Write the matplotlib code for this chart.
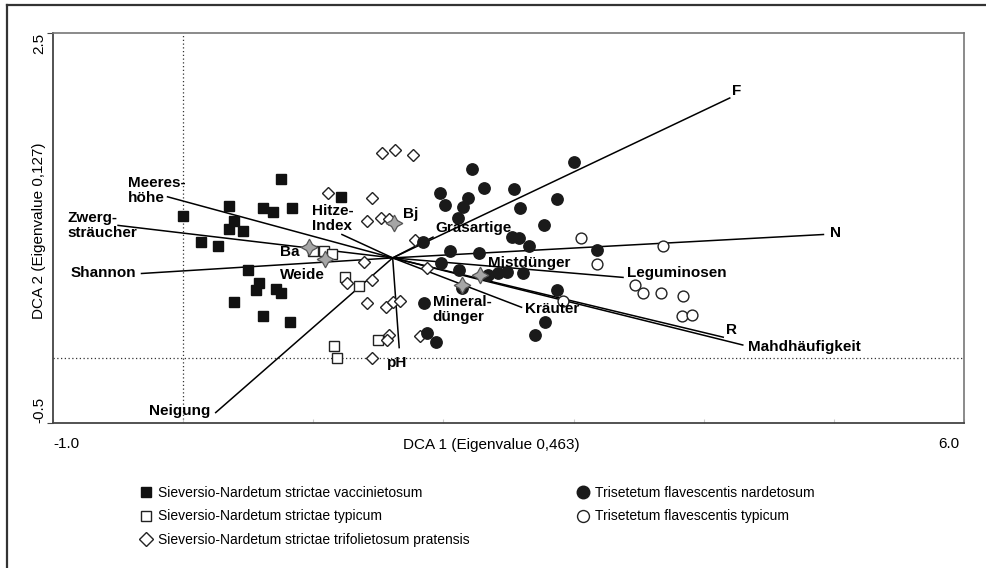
import matplotlib.pyplot as plt
from matplotlib.lines import Line2D
from matplotlib.transforms import ScaledTranslation

plt.rcParams['font.family'] = ['Liberation Sans', 'DejaVu Sans']

# --------------------------------------------------
# DATA (DCA site scores)
# --------------------------------------------------

# Sieversio-Nardetum strictae vaccinietosum (filled squares)
vacc_x = [0.00, 0.75, 1.21, 0.35, 0.61, 0.69, 0.84, 0.39, 0.35, 0.46,
          0.14, 0.27, 0.50, 0.58, 0.56, 0.71, 0.75, 0.39, 0.61, 0.82]
vacc_y = [1.09, 1.38, 1.24, 1.17, 1.15, 1.12, 1.15, 1.05, 0.99, 0.98,
          0.89, 0.86, 0.68, 0.58, 0.52, 0.53, 0.50, 0.43, 0.32, 0.28]

# Sieversio-Nardetum strictae typicum (open squares)
snty_x = [1.00, 1.08, 1.14, 1.24, 1.35, 1.50, 1.16, 1.18]
snty_y = [0.82, 0.82, 0.80, 0.62, 0.55, 0.14, 0.09, 0.00]

# Sieversio-Nardetum strictae trifolietosum pratensis (open diamonds)
trif_x = [1.53, 1.63, 1.77, 1.11, 1.45, 1.41, 1.52, 1.58, 1.78, 1.39, 1.87,
          1.26, 1.45, 1.41, 1.56, 1.61, 1.67, 1.58, 1.57, 1.45, 1.82]
trif_y = [1.58, 1.60, 1.56, 1.27, 1.23, 1.05, 1.08, 1.07, 0.91, 0.74, 0.69,
          0.58, 0.60, 0.42, 0.39, 0.43, 0.44, 0.18, 0.14, 0.00, 0.17]

# Trisetetum flavescentis nardetosum (filled circles)
nard_x = [2.22, 1.97, 2.01, 2.31, 2.19, 2.15, 2.11, 2.54, 3.00, 2.87, 2.59,
          2.77, 1.84, 2.53, 2.58, 2.66, 3.18, 2.05, 2.27, 1.98, 2.12, 2.34,
          2.42, 2.49, 2.61, 2.87, 2.14, 1.85, 1.87, 1.94, 2.78, 2.70]
nard_y = [1.45, 1.27, 1.18, 1.31, 1.23, 1.16, 1.08, 1.30, 1.51, 1.22, 1.15,
          1.02, 0.89, 0.93, 0.92, 0.86, 0.83, 0.82, 0.81, 0.73, 0.68, 0.64,
          0.65, 0.66, 0.65, 0.52, 0.54, 0.42, 0.19, 0.12, 0.28, 0.18]

# Trisetetum flavescentis typicum (open circles)
trty_x = [3.06, 3.69, 3.18, 3.47, 3.53, 3.67, 3.84, 3.83, 3.91, 2.92]
trty_y = [0.92, 0.86, 0.72, 0.56, 0.50, 0.50, 0.48, 0.32, 0.33, 0.44]

# environmental vectors
origin = (1.61, 0.77)
vec_names = ['F', 'N', 'Leguminosen', 'R', 'Mahdhäufigkeit', 'Kräuter', 'pH',
             'Neigung', 'Shannon', 'Zwerg-\nsträucher', 'Meeres-\nhöhe',
             'Hitze-\nIndex', 'Grasartige']
vec_x = [4.20, 4.92, 3.38, 4.15, 4.30, 2.60, 1.66, 0.25, -0.32, -0.50, -0.12, 1.22, 1.92]
vec_y = [2.00, 0.95, 0.62, 0.16, 0.10, 0.39, 0.08, -0.42, 0.65, 1.02, 1.24, 0.95, 0.93]

# nominal variables (centroids, stars)
cen_names = ['Ba', 'Weide', 'Bj', 'Mistdünger', 'Mineral-\ndünger']
cen_x = [0.97, 1.09, 1.62, 2.28, 2.14]
cen_y = [0.85, 0.76, 1.04, 0.64, 0.56]

# label placement (offset in pixels, horizontal alignment)
vec_offsets = [(2, 7, 'left'), (7, 1, 'left'), (4, 4, 'left'), (3, 7, 'left'),
               (5, -2, 'left'), (3, -2, 'left'), (-2, -15, 'center'),
               (-5, 2, 'right'), (-5, 0, 'right'), (-51, 0, 'left'),
               (-40, 6, 'left'), (-30, 16, 'left'), (2, 9, 'left')]
cen_offsets = [(-10, -5, 'right'), (0, -16, 'right'), (9, 9, 'left'),
               (8, 12, 'left'), (-29, -24, 'left')]

# --------------------------------------------------
# FIGURE
# --------------------------------------------------

fig = plt.figure(figsize=(9.87, 5.68), dpi=100)
ax = fig.add_axes([0.0537, 0.2553, 0.9230, 0.6866])
ax.set_xlim(-1, 6)
ax.set_ylim(-0.5, 2.5)

# dotted zero lines
ax.axvline(0, color='#333333', lw=0.9, ls=(0, (1, 2)), zorder=1)
ax.axhline(0, color='#333333', lw=0.9, ls=(0, (1, 2)), zorder=1)

# vectors
for x, y in zip(vec_x, vec_y):
    ax.plot([origin[0], x], [origin[1], y], color='black', lw=1.1, zorder=2)

# sites
ax.plot(vacc_x, vacc_y, 's', ms=7, mfc='#111111', mec='#111111', ls='none', zorder=3,
        label='Sieversio-Nardetum strictae vaccinietosum')
ax.plot(snty_x, snty_y, 's', ms=7, mfc='white', mec='#222222', mew=1.0, ls='none', zorder=3,
        label='Sieversio-Nardetum strictae typicum')
ax.plot(trif_x, trif_y, 'D', ms=6.6, mfc='white', mec='#222222', mew=1.0, ls='none', zorder=3,
        label='Sieversio-Nardetum strictae trifolietosum pratensis')
ax.plot(nard_x, nard_y, 'o', ms=8.2, mfc='#1a1a1a', mec='#1a1a1a', ls='none', zorder=3,
        label='Trisetetum flavescentis nardetosum')
ax.plot(trty_x, trty_y, 'o', ms=7.8, mfc='white', mec='#222222', mew=1.0, ls='none', zorder=3,
        label='Trisetetum flavescentis typicum')

# centroids
ax.plot(cen_x, cen_y, marker=(4, 1, 0), ms=12, mfc='#a6a6a6', mec='#555555',
        mew=0.9, ls='none', zorder=4)

# labels
for name, x, y, (dx, dy, ha) in zip(vec_names, vec_x, vec_y, vec_offsets):
    ax.annotate(name, (x, y), xytext=(dx, dy), textcoords='offset pixels',
                ha=ha, va='center', fontsize=11, fontweight='bold',
                linespacing=1.1, zorder=5)
for name, x, y, (dx, dy, ha) in zip(cen_names, cen_x, cen_y, cen_offsets):
    ax.annotate(name, (x, y), xytext=(dx, dy), textcoords='offset pixels',
                ha=ha, va='center', fontsize=11, fontweight='bold',
                linespacing=1.1, zorder=5)

# axes styling
for side in ['top', 'right']:
    ax.spines[side].set_color('#777777')
    ax.spines[side].set_linewidth(1.2)
for side in ['left', 'bottom']:
    ax.spines[side].set_color('#444444')
    ax.spines[side].set_linewidth(1.3)

ax.set_xticks([-1, 0, 1, 2, 3, 4, 5, 6])
ax.set_xticklabels(['-1.0', '', '', '', '', '', '', '6.0'])
ax.tick_params(axis='x', direction='in', length=3, color='#cccccc', pad=10,
               labelsize=11)
xl = ax.get_xticklabels()
xl[0].set_ha('left')
xl[-1].set_ha('right')
xl[-1].set_transform(xl[-1].get_transform() + ScaledTranslation(-5 / 100, 0, fig.dpi_scale_trans))

ax.set_yticks([-0.5, 2.5])
ax.set_yticklabels(['-0.5', '2.5'], rotation=90)
ax.tick_params(axis='y', direction='out', length=4, color='#444444', pad=1,
               labelsize=11)
yl = ax.get_yticklabels()
yl[0].set_va('bottom')
yl[1].set_va('top')

ax.text(0.481, -0.056, 'DCA 1 (Eigenvalue 0,463)', transform=ax.transAxes,
        ha='center', va='center', fontsize=11)
ax.text(-0.0154, 0.492, 'DCA 2 (Eigenvalue 0,127)', transform=ax.transAxes,
        ha='center', va='center', rotation=90, fontsize=11)

# legend
fig.legend(loc='upper left', bbox_to_anchor=(140.5 / 987, 1 - 486 / 568),
           ncol=2, frameon=False, fontsize=10, handlelength=0.8,
           handletextpad=0.45, columnspacing=7.8, labelspacing=0.68,
           borderpad=0, borderaxespad=0, markerscale=1.1)

# outer frame (left and top edges visible)
fig.add_artist(Line2D([7 / 987, 7 / 987], [0, 1 - 5 / 568], color='#333333', lw=1.6))
fig.add_artist(Line2D([7 / 987, 1], [1 - 5 / 568, 1 - 5 / 568], color='#333333', lw=1.6))

fig.savefig('out.png', dpi=100)
